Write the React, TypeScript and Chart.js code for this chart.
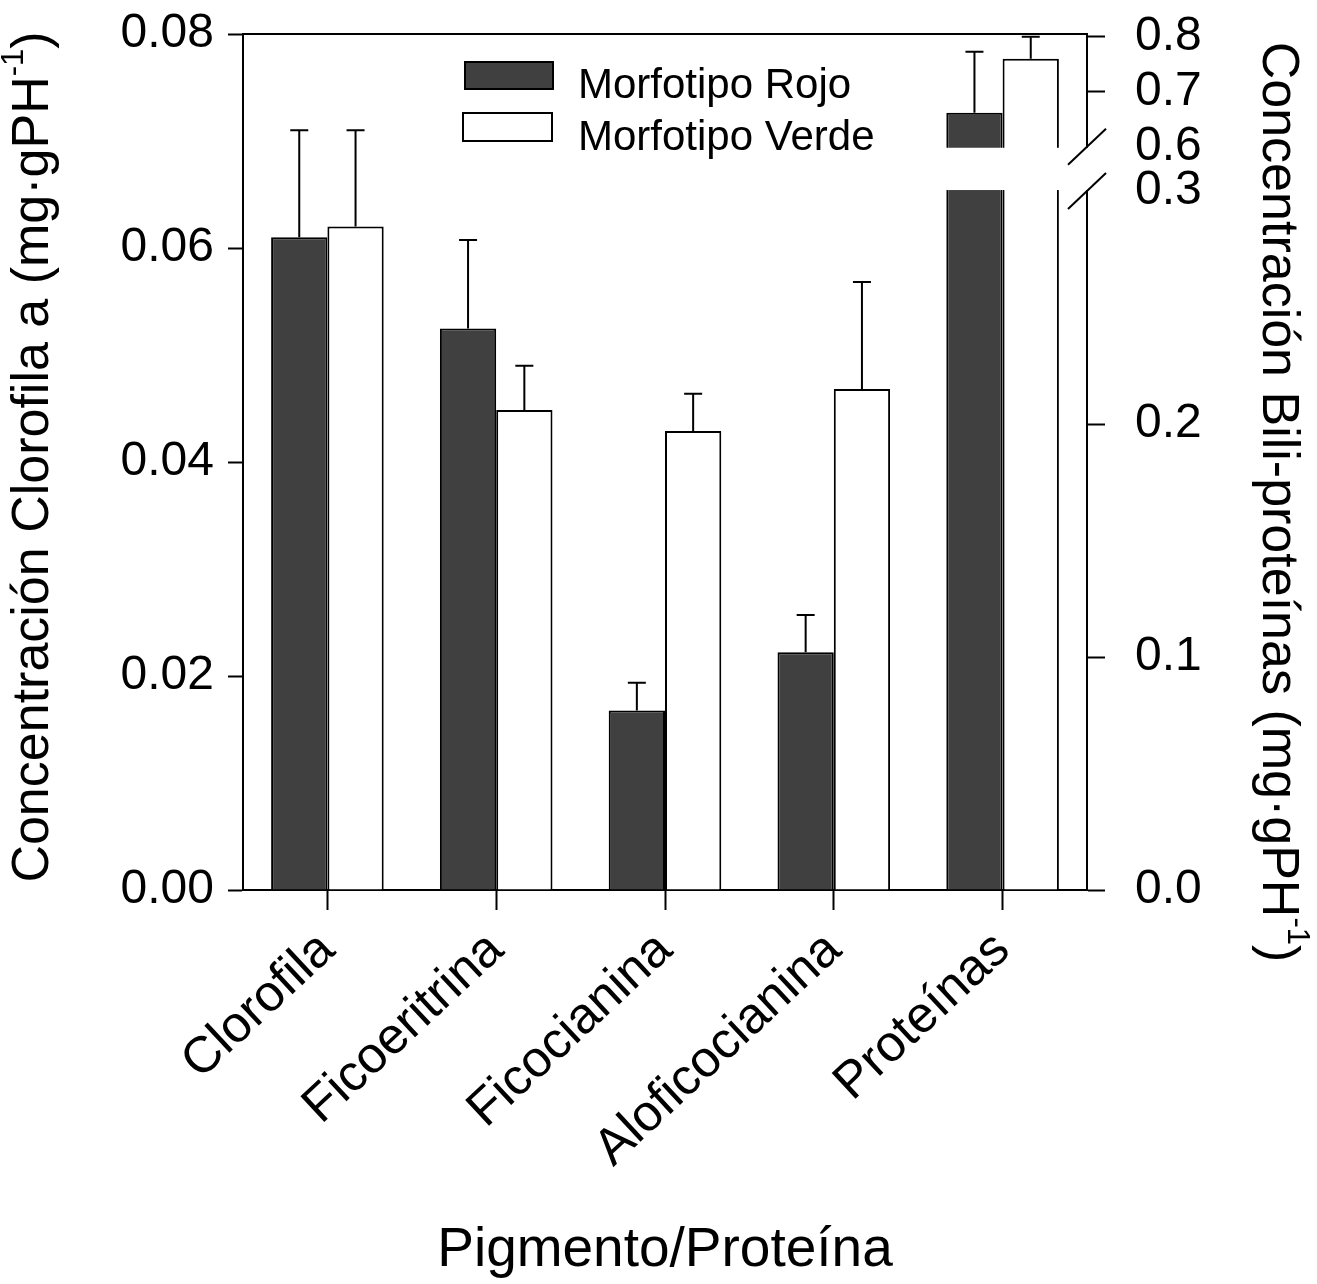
import React, { useEffect, useRef } from 'react';
import { Chart, registerables } from 'chart.js';

Chart.register(...registerables);

// ---------- data ----------
const categories = ['Clorofila', 'Ficoeritrina', 'Ficocianina', 'Aloficocianina', 'Proteínas'];
// Clorofila is read on the left axis, the bili-proteins / proteins on the right axis
const axisOfCategory = ['left', 'right', 'right', 'right', 'right'];
const seriesLabels = ['Morfotipo Rojo', 'Morfotipo Verde'];
const rojoMeans = [0.061, 0.241, 0.077, 0.102, 0.662];
const rojoErrors = [0.010, 0.038, 0.012, 0.016, 0.111];
const verdeMeans = [0.062, 0.206, 0.197, 0.215, 0.760];
const verdeErrors = [0.009, 0.019, 0.016, 0.046, 0.040];
const leftTicks = [0, 0.02, 0.04, 0.06, 0.08];
const rightTicks = [0, 0.1, 0.2, 0.3, 0.6, 0.7, 0.8];
const breakLow = 0.3;
const breakHigh = 0.6;
const leftTitle = ['Concentración Clorofila a (mg·gPH', '-1', ')'];
const rightTitle = ['Concentración Bili-proteínas (mg·gPH', '-1', ')'];
const xTitle = 'Pigmento/Proteína';

// ---------- styling / broken-axis mapping ----------
const FONT = "'Liberation Sans', Arial, Helvetica, sans-serif";
const ROJO_FILL = '#404040';
const VERDE_FILL = '#ffffff';
const GAP = 0.019;
const UPPER_K = 0.236;
const RIGHT_MAX = 0.3674;
const toBroken = (v: number) => (v <= breakLow ? v : breakLow + GAP + (v - breakHigh) * UPPER_K);

function drawTitle(ctx: CanvasRenderingContext2D, parts: string[], cx: number, cy: number, angle: number, size: number) {
  ctx.save();
  ctx.translate(cx, cy);
  ctx.rotate(angle);
  ctx.fillStyle = '#000';
  ctx.textBaseline = 'middle';
  ctx.textAlign = 'left';
  const main = `${size}px ${FONT}`;
  const sup = `${Math.round(size * 0.6)}px ${FONT}`;
  const widths = parts.map((p, i) => {
    ctx.font = i === 1 ? sup : main;
    return ctx.measureText(p).width;
  });
  let x = -widths.reduce((a, b) => a + b, 0) / 2;
  parts.forEach((p, i) => {
    ctx.font = i === 1 ? sup : main;
    ctx.fillText(p, x, i === 1 ? -size * 0.38 : 0);
    x += widths[i];
  });
  ctx.restore();
}

const overlayPlugin = {
  id: 'overlay',
  afterDatasetsDraw(chart: any) {
    const ctx: CanvasRenderingContext2D = chart.ctx;
    const { left, right, top } = chart.chartArea;
    const yR = chart.scales.yR;
    const yL = chart.scales.yL;

    // axis break
    const yBreakTop = yR.getPixelForValue(toBroken(breakHigh));
    const yBreakBot = yR.getPixelForValue(toBroken(breakLow));
    const last = categories.length - 1;
    const el = chart.getDatasetMeta(1).data[last];
    const xStart = el.x - el.width / 2 - 4;
    ctx.save();
    ctx.fillStyle = '#ffffff';
    ctx.fillRect(xStart, yBreakTop + 1, right + 4 - xStart, yBreakBot - yBreakTop - 2);
    ctx.strokeStyle = '#000';
    ctx.lineWidth = 2;
    [yBreakTop, yBreakBot].forEach((yb) => {
      ctx.beginPath();
      ctx.moveTo(right - 19, yb + 18);
      ctx.lineTo(right + 19, yb - 18);
      ctx.stroke();
    });

    // error bars (upper half only)
    const sets = [
      { means: rojoMeans, errs: rojoErrors, metas: [0, 1] },
      { means: verdeMeans, errs: verdeErrors, metas: [2, 3] },
    ];
    sets.forEach((s) => {
      s.metas.forEach((mi) => {
        const meta = chart.getDatasetMeta(mi);
        meta.data.forEach((bar: any, i: number) => {
          const ds = chart.data.datasets[mi];
          if (ds.data[i] == null) return;
          const isRight = axisOfCategory[i] === 'right';
          const hi = s.means[i] + s.errs[i];
          const yTop = isRight ? yR.getPixelForValue(toBroken(hi)) : yL.getPixelForValue(hi);
          ctx.beginPath();
          ctx.moveTo(bar.x, bar.y);
          ctx.lineTo(bar.x, yTop);
          ctx.moveTo(bar.x - 9, yTop);
          ctx.lineTo(bar.x + 9, yTop);
          ctx.stroke();
        });
      });
    });

    // top frame line
    ctx.beginPath();
    ctx.moveTo(left - 1, top);
    ctx.lineTo(right + 1, top);
    ctx.stroke();

    // legend
    const swatches = [
      { x: 465, y: 62, w: 88, h: 27, fill: ROJO_FILL, ty: 98 },
      { x: 463, y: 113, w: 89, h: 28, fill: VERDE_FILL, ty: 150 },
    ];
    swatches.forEach((sw, i) => {
      ctx.fillStyle = sw.fill;
      ctx.fillRect(sw.x, sw.y, sw.w, sw.h);
      ctx.lineWidth = 2;
      ctx.strokeStyle = '#000';
      ctx.strokeRect(sw.x, sw.y, sw.w, sw.h);
      ctx.fillStyle = '#000';
      ctx.font = `42px ${FONT}`;
      ctx.textAlign = 'left';
      ctx.textBaseline = 'alphabetic';
      ctx.fillText(seriesLabels[i], 578, sw.ty);
    });
    ctx.restore();

    // axis titles
    drawTitle(ctx, leftTitle, 34, 457, -Math.PI / 2, 52);
    drawTitle(ctx, rightTitle, 1277, 502, Math.PI / 2, 52);
  },
};

export default function App() {
  const ref = useRef<HTMLCanvasElement | null>(null);

  useEffect(() => {
    if (!ref.current) return;
    const side = (means: number[], s: string) =>
      means.map((m, i) => (axisOfCategory[i] === s ? (s === 'right' ? toBroken(m) : m) : null));
    const barStyle = (fill: string) => ({
      backgroundColor: fill,
      borderColor: '#000',
      borderWidth: 2,
      borderSkipped: 'bottom' as const,
    });
    const chart = new Chart(ref.current, {
      type: 'bar',
      data: {
        labels: categories,
        datasets: [
          { label: seriesLabels[0], data: side(rojoMeans, 'left'), yAxisID: 'yL', stack: 'rojo', ...barStyle(ROJO_FILL) },
          { label: seriesLabels[0], data: side(rojoMeans, 'right'), yAxisID: 'yR', stack: 'rojo', ...barStyle(ROJO_FILL) },
          { label: seriesLabels[1], data: side(verdeMeans, 'left'), yAxisID: 'yL', stack: 'verde', ...barStyle(VERDE_FILL) },
          { label: seriesLabels[1], data: side(verdeMeans, 'right'), yAxisID: 'yR', stack: 'verde', ...barStyle(VERDE_FILL) },
        ] as any,
      },
      options: {
        animation: false,
        responsive: false,
        devicePixelRatio: 1,
        layout: { padding: { top: 34, left: 0, right: 0, bottom: 0 } },
        plugins: { legend: { display: false }, tooltip: { enabled: false }, title: { display: false } },
        datasets: { bar: { categoryPercentage: 0.667, barPercentage: 1 } },
        scales: {
          x: {
            type: 'category',
            offset: true,
            grid: { offset: false, drawOnChartArea: false, drawTicks: true, tickLength: 20, tickWidth: 2, tickColor: '#000' },
            border: { display: true, color: '#000', width: 2 },
            ticks: { autoSkip: false, maxRotation: 43, minRotation: 43, padding: 10, color: '#000', font: { family: FONT, size: 51 } },
            title: { display: true, text: xTitle, color: '#000', font: { family: FONT, size: 55 }, padding: { top: 0, bottom: 0 } },
            afterFit: (s: any) => { s.height = 394; s.paddingLeft = 0; s.paddingRight = 0; },
          },
          yL: {
            type: 'linear',
            position: 'left',
            min: leftTicks[0],
            max: leftTicks[leftTicks.length - 1],
            afterBuildTicks: (s: any) => { s.ticks = leftTicks.map((v) => ({ value: v })); },
            ticks: { callback: (v: any) => Number(v).toFixed(2), padding: 14, color: '#000', font: { family: FONT, size: 48 } },
            grid: { drawOnChartArea: false, tickLength: 15, tickWidth: 2, tickColor: '#000' },
            border: { display: true, color: '#000', width: 2 },
            afterFit: (s: any) => { s.width = 243; s.paddingTop = 0; s.paddingBottom = 0; },
          },
          yR: {
            type: 'linear',
            position: 'right',
            min: 0,
            max: RIGHT_MAX,
            afterBuildTicks: (s: any) => { s.ticks = rightTicks.map((v) => ({ value: toBroken(v) })); },
            ticks: {
              autoSkip: false,
              callback: (_v: any, i: number) => rightTicks[i].toFixed(1),
              padding: 30,
              color: '#000',
              font: { family: FONT, size: 48 },
            },
            grid: {
              drawOnChartArea: false,
              tickLength: 18,
              tickWidth: 2,
              tickColor: (c: any) =>
                rightTicks[c.index] === breakLow || rightTicks[c.index] === breakHigh ? 'rgba(0,0,0,0)' : '#000',
            },
            border: { display: true, color: '#000', width: 2 },
            afterFit: (s: any) => { s.width = 230; s.paddingTop = 0; s.paddingBottom = 0; },
          },
        } as any,
      },
      plugins: [overlayPlugin],
    });
    return () => chart.destroy();
  }, []);

  return (
    <div style={{ position: 'absolute', left: 0, top: 0, width: 1317, height: 1284, background: '#fff' }}>
      <canvas ref={ref} width={1317} height={1284} style={{ display: 'block' }} />
    </div>
  );
}
